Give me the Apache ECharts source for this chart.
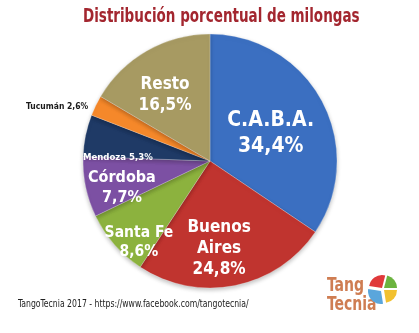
<!DOCTYPE html>
<html>
<head>
<meta charset="utf-8">
<script src="https://cdn.jsdelivr.net/npm/echarts@6/dist/echarts.min.js"></script>
<style>
  html, body { margin: 0; padding: 0; background: #ffffff; }
  #chart { width: 419px; height: 333px; }
</style>
</head>
<body>
<div id="chart"></div>
<script>
// Share of milongas by region (percent), clockwise from 12 o'clock
const regions = ['C.A.B.A.', 'Buenos Aires', 'Santa Fe', 'Córdoba', 'Mendoza', 'Tucumán', 'Resto'];
const shares = [34.4, 24.8, 8.6, 7.7, 5.3, 2.6, 16.5];
const sliceColors = ['#3b6fc1', '#c0342f', '#8cb23e', '#7c50a3', '#1f3a66', '#f5882a', '#a79a62'];

// Label text per slice (line breaks as drawn)
const labelNames = ['C.A.B.A.', 'Buenos\nAires', 'Santa Fe', 'Córdoba', 'Mendoza', 'Tucumán', 'Resto'];
const labelInline = [false, false, false, false, true, true, false];
const labelSizes = [21, 17, 15.5, 16, 9.5, 8.5, 17];
const labelColors = ['#fff', '#fff', '#fff', '#fff', '#fff', '#1a1a1a', '#fff'];
const labelOffsets = [[2, 4], [-4, 22], [-21, 38], [-23, 13], [-27, 10], [-93, -25], [-12, -8]];

const FONT = "'DejaVu Sans Condensed', 'DejaVu Sans', sans-serif";
const fmt = v => v.toFixed(1).replace('.', ',') + '%';

const chart = echarts.init(document.getElementById('chart'));

const data = regions.map((name, i) => ({
  name,
  value: shares[i],
  itemStyle: { color: sliceColors[i] },
  label: {
    formatter: labelNames[i] + (labelInline[i] ? ' ' : '\n') + fmt(shares[i]),
    fontSize: labelSizes[i],
    lineHeight: Math.round(labelSizes[i] * 1.25),
    color: labelColors[i],
    offset: labelOffsets[i]
  }
}));

chart.setOption({
  backgroundColor: '#ffffff',
  animation: false,
  series: [{
    type: 'pie',
    center: [210, 161],
    radius: 127,
    startAngle: 90,
    clockwise: true,
    avoidLabelOverlap: false,
    labelLine: { show: false },
    itemStyle: {
      borderColor: 'rgba(255,255,255,0.5)',
      borderWidth: 0.5,
      shadowColor: 'rgba(0,0,0,0.25)',
      shadowBlur: 4,
      shadowOffsetY: 2
    },
    label: {
      position: 'inside',
      fontFamily: FONT,
      fontWeight: 'bold',
      align: 'center'
    },
    emphasis: { disabled: true },
    data
  }],
  graphic: [
    // chart title (narrowed to fit the header)
    {
      type: 'text',
      x: 83,
      y: 8,
      scaleX: 0.79,
      style: {
        text: 'Distribución porcentual de milongas',
        font: "bold 19px " + FONT,
        fill: '#a3262f',
        textVerticalAlign: 'top',
        shadowColor: 'rgba(0,0,0,0.35)',
        shadowBlur: 2,
        shadowOffsetX: 1,
        shadowOffsetY: 1
      }
    },
    // source line
    {
      type: 'text',
      x: 18,
      y: 299,
      scaleX: 0.86,
      style: {
        text: 'TangoTecnia 2017 - https://www.facebook.com/tangotecnia/',
        font: "10px " + FONT,
        fill: '#222',
        textVerticalAlign: 'top'
      }
    },
    // logo wordmark
    {
      type: 'text',
      x: 327,
      y: 277,
      scaleX: 0.82,
      style: {
        text: 'Tang\nTecnia',
        font: "bold 19px " + FONT,
        lineHeight: 19,
        fill: '#cf7d52',
        textVerticalAlign: 'top'
      }
    },
    // logo emblem
    { type: 'sector', shape: { cx: 382, cy: 288, r: 13, startAngle: -Math.PI * 0.95, endAngle: -Math.PI * 0.42 }, style: { fill: '#e0393b' } },
    { type: 'sector', shape: { cx: 384, cy: 288, r: 13, startAngle: -Math.PI * 0.42, endAngle: 0 }, style: { fill: '#6bb33f' } },
    { type: 'sector', shape: { cx: 384, cy: 290, r: 13, startAngle: 0, endAngle: Math.PI * 0.45 }, style: { fill: '#f2c130' } },
    { type: 'sector', shape: { cx: 381, cy: 291, r: 13, startAngle: Math.PI * 0.45, endAngle: Math.PI * 1.05 }, style: { fill: '#5aa6dc' } }
  ]
});
</script>
</body>
</html>
